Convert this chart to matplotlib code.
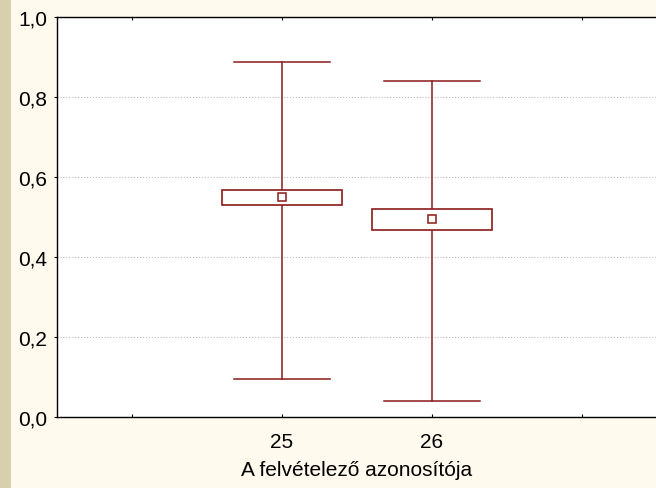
# Kategorizált dobozdiagram: átlag, szórás-doboz, min-max bajusz
import matplotlib.pyplot as plt
from matplotlib.patches import Rectangle

plt.rcParams['font.family'] = ['Liberation Sans', 'DejaVu Sans']

kategoriak = ['25', '26']
atlag = [0.550, 0.494]
doboz_also = [0.530, 0.468]
doboz_felso = [0.568, 0.521]
minimum = [0.095, 0.040]
maximum = [0.888, 0.841]

szin = '#8B1A1A'
hatter = '#FFF9EE'

fig = plt.figure(figsize=(6.56, 4.89), dpi=100, facecolor=hatter)
# bal oldali sáv
fig.patches.append(Rectangle((0, 0), 11 / 656, 1, transform=fig.transFigure,
                             facecolor='#D8D0AC', edgecolor='none', zorder=0))

ax = fig.add_axes([57 / 656, 1 - 418 / 489, 600 / 656, 400 / 489])
ax.set_facecolor('white')

poz = [1, 2]
for x, m, lo, hi, mn, mx in zip(poz, atlag, doboz_also, doboz_felso, minimum, maximum):
    ax.plot([x, x], [mn, lo], color=szin, lw=1.1)
    ax.plot([x, x], [hi, mx], color=szin, lw=1.1)
    ax.plot([x - 0.32, x + 0.32], [mx, mx], color=szin, lw=1.1)
    ax.plot([x - 0.32, x + 0.32], [mn, mn], color=szin, lw=1.1)
    ax.add_patch(Rectangle((x - 0.4, lo), 0.8, hi - lo, facecolor='white',
                           edgecolor=szin, lw=1.2, zorder=3))
    ax.plot(x, m, marker='s', ms=6, mfc='white', mec=szin, mew=1.1, zorder=4)

ax.set_xlim(-0.5, 3.5)
ax.set_ylim(0, 1)
ax.set_xticks([0, 1, 2, 3])
ax.set_xticklabels(['', kategoriak[0], kategoriak[1], ''], fontsize=15)
ax.set_yticks([0, 0.2, 0.4, 0.6, 0.8, 1.0])
ax.set_yticklabels(['0,0', '0,2', '0,4', '0,6', '0,8', '1,0'], fontsize=15)
ax.tick_params(axis='x', direction='in', length=2, pad=11, top=True)
ax.tick_params(axis='y', direction='out', length=2, pad=5)
ax.grid(axis='y', color='#BBBBBB', ls=':', lw=0.8)
ax.set_axisbelow(True)
for s in ax.spines.values():
    s.set_color('black')
    s.set_linewidth(1.0)
ax.spines['right'].set_visible(False)
ax.set_xlabel('A felvételező azonosítója', fontsize=15, labelpad=6)

fig.savefig('out.png', dpi=100, facecolor=hatter)
